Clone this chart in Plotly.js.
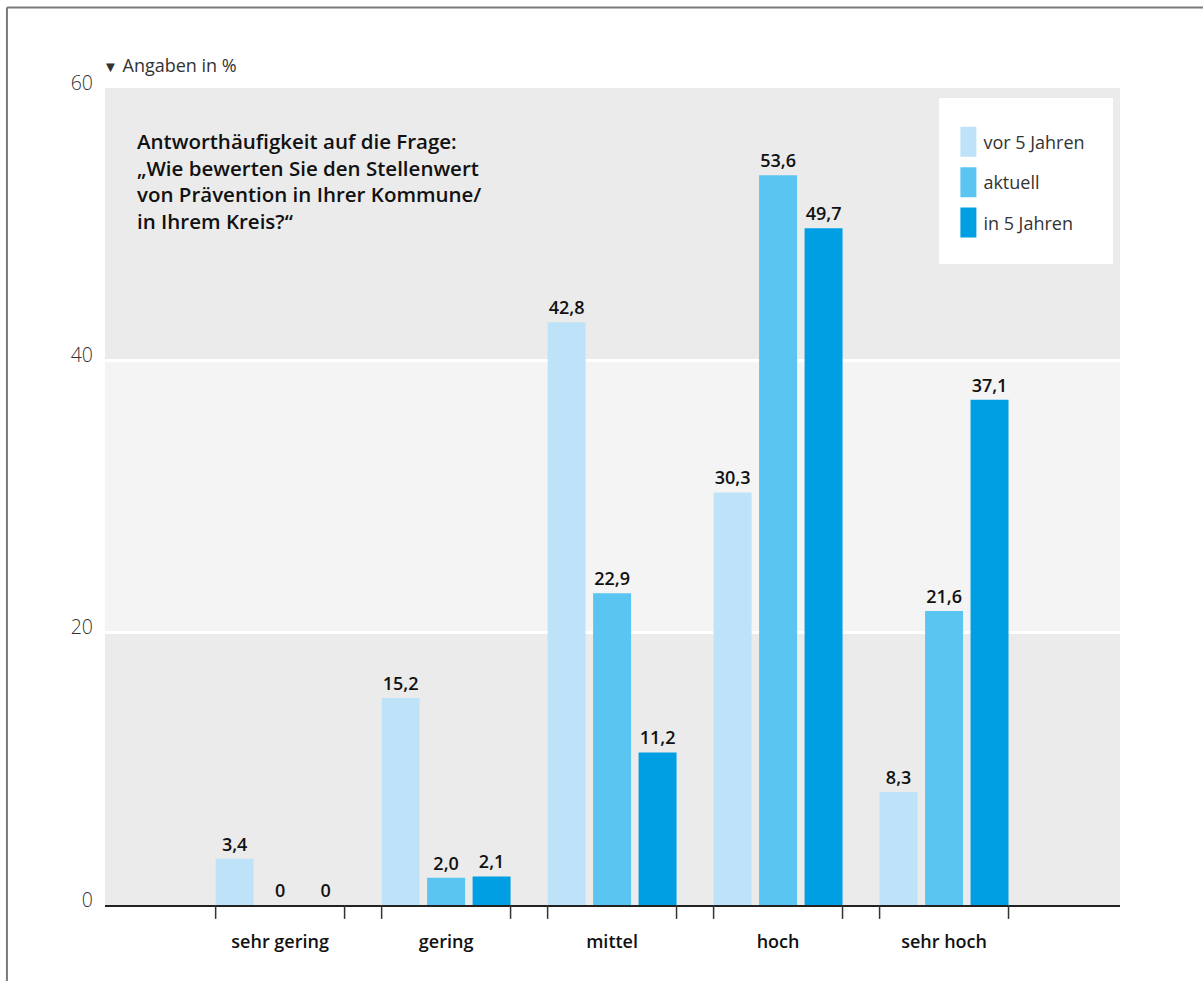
<!DOCTYPE html>
<html>
<head>
<meta charset="utf-8">
<script src="https://cdn.plot.ly/plotly-3.0.1.min.js"></script>
<style>html,body{margin:0;padding:0;background:#fff;}#chart{width:1203px;height:981px;}</style>
</head>
<body>
<div id="chart"></div>
<script>
const categories = ['sehr gering', 'gering', 'mittel', 'hoch', 'sehr hoch'];
const seriesNames = ['vor 5 Jahren', 'aktuell', 'in 5 Jahren'];
const vor5Jahren = [3.4, 15.2, 42.8, 30.3, 8.3];
const aktuell = [0, 2.0, 22.9, 53.6, 21.6];
const in5Jahren = [0, 2.1, 11.2, 49.7, 37.1];
const colors = ['#bee3f8', '#5bc5f2', '#009fe3'];
const yTicks = [0, 20, 40, 60];
const axisLabel = 'Angaben in %';
const chartTitle = ['Antworthäufigkeit auf die Frage:', '„Wie bewerten Sie den Stellenwert', 'von Prävention in Ihrer Kommune/', 'in Ihrem Kreis?“'];

const FONT = '"Open Sans", Roboto, "Liberation Sans", sans-serif';
const fmt = v => v === 0 ? '0' : v.toFixed(1).replace('.', ',');
const BARGAP = 0.178, BARGROUPGAP = 0.165;

const allSeries = [vor5Jahren, aktuell, in5Jahren];
const traces = allSeries.map((vals, i) => ({
  type: 'bar',
  name: seriesNames[i],
  x: categories,
  y: vals,
  marker: {color: colors[i], line: {width: 0}},
  text: vals.map(fmt),
  textposition: 'outside',
  cliponaxis: false,
  textfont: {family: FONT, size: 18, color: '#111', weight: 600},
  hoverinfo: 'skip',
  legendgroup: 'g' + i
}));

// tick marks at the outer edges of each group
const halfW = (1 - BARGAP) / 2 - (1 - BARGAP) / 3 * BARGROUPGAP / 2;
const shapes = [
  {type: 'rect', xref: 'paper', yref: 'y', x0: 0, x1: 1, y0: 20, y1: 40, fillcolor: '#f4f4f4', line: {width: 0}, layer: 'below'},
  // legend box
  {type: 'rect', xref: 'paper', yref: 'paper', x0: 0.8217, x1: 0.9931, y0: 0.7846, y1: 0.9878, fillcolor: '#ffffff', line: {width: 0}, layer: 'above'},
  // frame
  {type: 'line', xref: 'paper', yref: 'paper', x0: -0.0966, x1: -0.0966, y0: -0.1, y1: 1.0985, line: {color: '#7a7a7a', width: 2}},
  {type: 'line', xref: 'paper', yref: 'paper', x0: -0.0966, x1: 1.09, y0: 1.0985, y1: 1.0985, line: {color: '#7a7a7a', width: 2}}
];
categories.forEach((c, i) => {
  [i - halfW, i + halfW].forEach(xv => {
    shapes.push({type: 'line', xref: 'x', yref: 'paper', x0: xv, x1: xv, y0: 0, y1: -0.017, line: {color: '#333', width: 1.5}});
  });
});

const layout = {
  width: 1203, height: 981,
  margin: {l: 105, r: 83, t: 88, b: 76},
  paper_bgcolor: '#ffffff',
  plot_bgcolor: '#ebebeb',
  font: {family: FONT, color: '#222'},
  barmode: 'group',
  bargap: BARGAP,
  bargroupgap: BARGROUPGAP,
  showlegend: true,
  legend: {
    x: 0.826, y: 0.9564, xanchor: 'left', yanchor: 'top',
    bgcolor: 'rgba(0,0,0,0)', borderwidth: 0,
    font: {family: FONT, size: 18, color: '#333'},
    tracegroupgap: 14, traceorder: 'grouped'
  },
  xaxis: {
    type: 'category',
    range: [-1.055, 5.06],
    showgrid: false, zeroline: false,
    showline: true, linecolor: '#222', linewidth: 2,
    ticks: '',
    tickfont: {family: FONT, size: 18, color: '#111', weight: 600},
    ticklabelstandoff: 19,
    fixedrange: true
  },
  yaxis: {
    range: [0, 60],
    tickvals: yTicks,
    ticktext: yTicks.map(String),
    showgrid: true, gridcolor: '#ffffff', gridwidth: 3,
    zeroline: false, showline: false, ticks: '',
    tickfont: {family: FONT, size: 19.5, color: '#333', weight: 300},
    ticklabelstandoff: 11,
    ticklabelshift: -5,
    fixedrange: true
  },
  shapes: shapes,
  annotations: [
    {xref: 'paper', yref: 'paper', x: 0, y: 1.011, xanchor: 'left', yanchor: 'bottom', showarrow: false, xshift: -4,
     text: '<span style="font-size:15px">▼</span> ' + axisLabel, font: {family: FONT, size: 18, color: '#333'}},
    {xref: 'paper', yref: 'paper', x: 0.0296, y: 0.955, xanchor: 'left', yanchor: 'top', align: 'left', showarrow: false,
     text: chartTitle.join('<br>'), font: {family: FONT, size: 20.5, color: '#111', weight: 600}}
  ]
};

Plotly.newPlot('chart', traces, layout, {displayModeBar: false, staticPlot: true}).then(gd => {
  gd.querySelectorAll('.legendpoints path').forEach(p => {
    p.setAttribute('d', 'M33,15H17V-15H33Z');
    p.removeAttribute('transform');
  });
});
</script>
</body>
</html>
